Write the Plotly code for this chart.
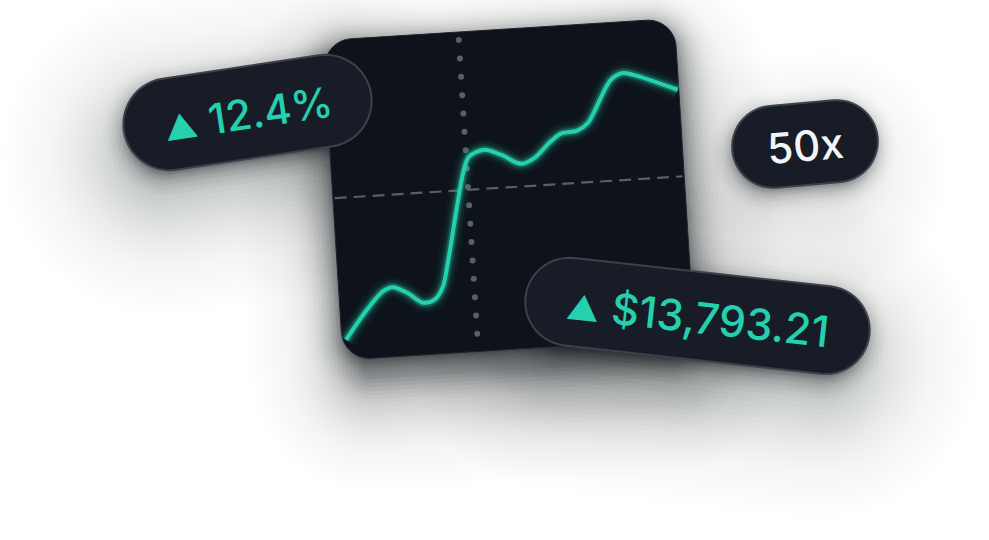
import numpy as np
import plotly.graph_objects as go

# === Дані графіка (одиниці панелі: 0..100 по обох осях) ===
line_x = [1.2, 6.9, 12.5, 15.4, 19.5, 23.6, 27.0, 29.6, 31.4, 37.8, 39.4, 43.8,
          48.4, 53.9, 57.8, 62.8, 65.8, 70.6, 73.6, 80.9, 84.4, 87.2, 99.7]
line_y = [6.2, 14.2, 20.6, 21.7, 19.6, 16.3, 17.0, 20.9, 28.1, 57.5, 61.0, 62.8,
          60.9, 57.7, 59.2, 64.1, 66.3, 67.0, 69.1, 82.1, 84.0, 83.3, 77.7]
cursor_x = 38.5      # пунктирна вертикаль
level_y = 50.6       # штрихова горизонталь

pct_label = "12.4%"
price_label = "$13,793.21"
lev_label = "50x"

# === Кольори ===
TEAL = "#25d0ae"
PANEL_BG = "#0e121a"
PILL_BG = "#171c26"
PILL_EDGE = "#3c414a"
GRID = "#595e67"

# === Геометрія (пікселі екрана) ===
PANEL = dict(cx=508.7, cy=189.2, w=352, h=320, r=28, ang=-3.6)
PILLS = [
    dict(cx=247.5, cy=112.5, w=250, h=92, ang=-8.5),
    dict(cx=697.5, cy=315.9, w=346, h=88, ang=6.3),
    dict(cx=805.0, cy=144.0, w=146, h=82, ang=-5.0),
]


def rot(cx, cy, ang, u, v):
    t = np.radians(ang)
    u = np.asarray(u, float)
    v = np.asarray(v, float)
    return cx + u * np.cos(t) - v * np.sin(t), cy + u * np.sin(t) + v * np.cos(t)


def rrect_path(cx, cy, w, h, r, ang, grow=0.0):
    w2, h2 = w / 2 + grow, h / 2 + grow
    r = max(min(r + grow, w2, h2), 1)
    us, vs = [], []
    corners = [(w2 - r, -(h2 - r), -90), (w2 - r, h2 - r, 0),
               (-(w2 - r), h2 - r, 90), (-(w2 - r), -(h2 - r), 180)]
    for ccx, ccy, a0 in corners:
        a = np.radians(np.linspace(a0, a0 + 90, 14))
        us.extend(ccx + r * np.cos(a))
        vs.extend(ccy + r * np.sin(a))
    xs, ys = rot(cx, cy, ang, us, vs)
    pts = [f"{x:.2f},{y:.2f}" for x, y in zip(xs, ys)]
    return "M" + " L".join(pts) + " Z"


def to_panel(x, y):
    x = np.asarray(x, float)
    y = np.asarray(y, float)
    u = (x / 100 - 0.5) * PANEL["w"]
    v = (0.5 - y / 100) * PANEL["h"]
    return rot(PANEL["cx"], PANEL["cy"], PANEL["ang"], u, v)


shapes = []


# === М'які тіні: шари з експоненційним спадом ===
def add_shadow(g, r, dx, dy, amp, ref_d, L, g_min, g_max, step=4):
    for gr in np.arange(g_max, g_min - 0.1, -step):
        dens = amp / L * np.exp(-(gr - ref_d) / L)
        alpha = 1 - np.exp(-dens * step)
        shapes.append(dict(
            type="path", layer="below",
            path=rrect_path(g["cx"] + dx, g["cy"] + dy, g["w"], g["h"], r, g["ang"], grow=gr),
            fillcolor=f"rgba(30,33,40,{alpha:.4f})", line=dict(width=0),
        ))


for i, p in enumerate(PILLS):
    k = 0.45 if i == 2 else 1.0
    add_shadow(p, p["h"] / 2, -10 if i == 2 else -6, 30, 0.15 * k, 20, 48, -30, 130, step=5)
    add_shadow(p, p["h"] / 2, -1, 5, 0.3, 0, 7, -4, 22, step=2)
add_shadow(PANEL, PANEL["r"], 2, 40, 0.117, 28, 34, -20, 125)
add_shadow(PANEL, PANEL["r"], 0, 6, 0.5, 0, 10, -4, 40, step=2)

# === Панель ===
shapes.append(dict(
    type="path", layer="below",
    path=rrect_path(PANEL["cx"], PANEL["cy"], PANEL["w"], PANEL["h"], PANEL["r"], PANEL["ang"]),
    fillcolor=PANEL_BG, line=dict(color="#1f242d", width=1),
))

# === Плашки ===
for p in PILLS:
    shapes.append(dict(
        type="path", layer="above",
        path=rrect_path(p["cx"], p["cy"], p["w"], p["h"], p["h"] / 2, p["ang"]),
        fillcolor=PILL_BG, line=dict(color=PILL_EDGE, width=2),
    ))

fig = go.Figure()

# Пунктир по вертикалі
dot_y = np.arange(97.5, 0, -5.75)
dx_, dy_ = to_panel(np.full(len(dot_y), cursor_x), dot_y)
fig.add_trace(go.Scatter(x=dx_, y=dy_, mode="markers",
                         marker=dict(size=6, color=GRID), hoverinfo="skip"))

# Штрихова горизонталь
hx, hy = to_panel([0.5, 99.5], [level_y, level_y])
fig.add_trace(go.Scatter(x=hx, y=hy, mode="lines",
                         line=dict(color=GRID, width=2.2, dash="12px,7px"), hoverinfo="skip"))

# Лінія з сяйвом
lx, ly = to_panel(line_x, line_y)
for wdt, op in [(22, 0.035), (16, 0.07), (11, 0.13), (7.5, 0.28)]:
    fig.add_trace(go.Scatter(x=lx, y=ly, mode="lines",
                             line=dict(color=f"rgba(37,208,174,{op})", width=wdt, shape="spline", smoothing=0.9),
                             hoverinfo="skip"))
fig.add_trace(go.Scatter(x=lx, y=ly, mode="lines",
                         line=dict(color=TEAL, width=4, shape="spline", smoothing=0.9),
                         hoverinfo="skip"))

# === Тексти ===
tri = '<span style="font-size:33px">▲</span> '
texts = [(tri + pct_label, TEAL, 42), (tri + price_label, TEAL, 43), (lev_label, "#f3f4f6", 42)]
annotations = []
for p, (txt, col, sz) in zip(PILLS, texts):
    annotations.append(dict(
        x=p["cx"], y=p["cy"] + 1, xref="x", yref="y", text=txt, showarrow=False,
        textangle=p["ang"], font=dict(family="Inter, DejaVu Sans", size=sz, color=col, weight=500),
        xanchor="center", yanchor="middle",
    ))

fig.update_layout(
    width=989, height=540, autosize=False,
    margin=dict(l=0, r=0, t=0, b=0),
    paper_bgcolor="white", plot_bgcolor="white",
    showlegend=False,
    xaxis=dict(range=[0, 989], visible=False, fixedrange=True),
    yaxis=dict(range=[540, 0], visible=False, fixedrange=True),
    shapes=shapes, annotations=annotations,
)

fig.write_html("out.html", config={"displayModeBar": False},
               post_script="document.body.style.margin='0';")
